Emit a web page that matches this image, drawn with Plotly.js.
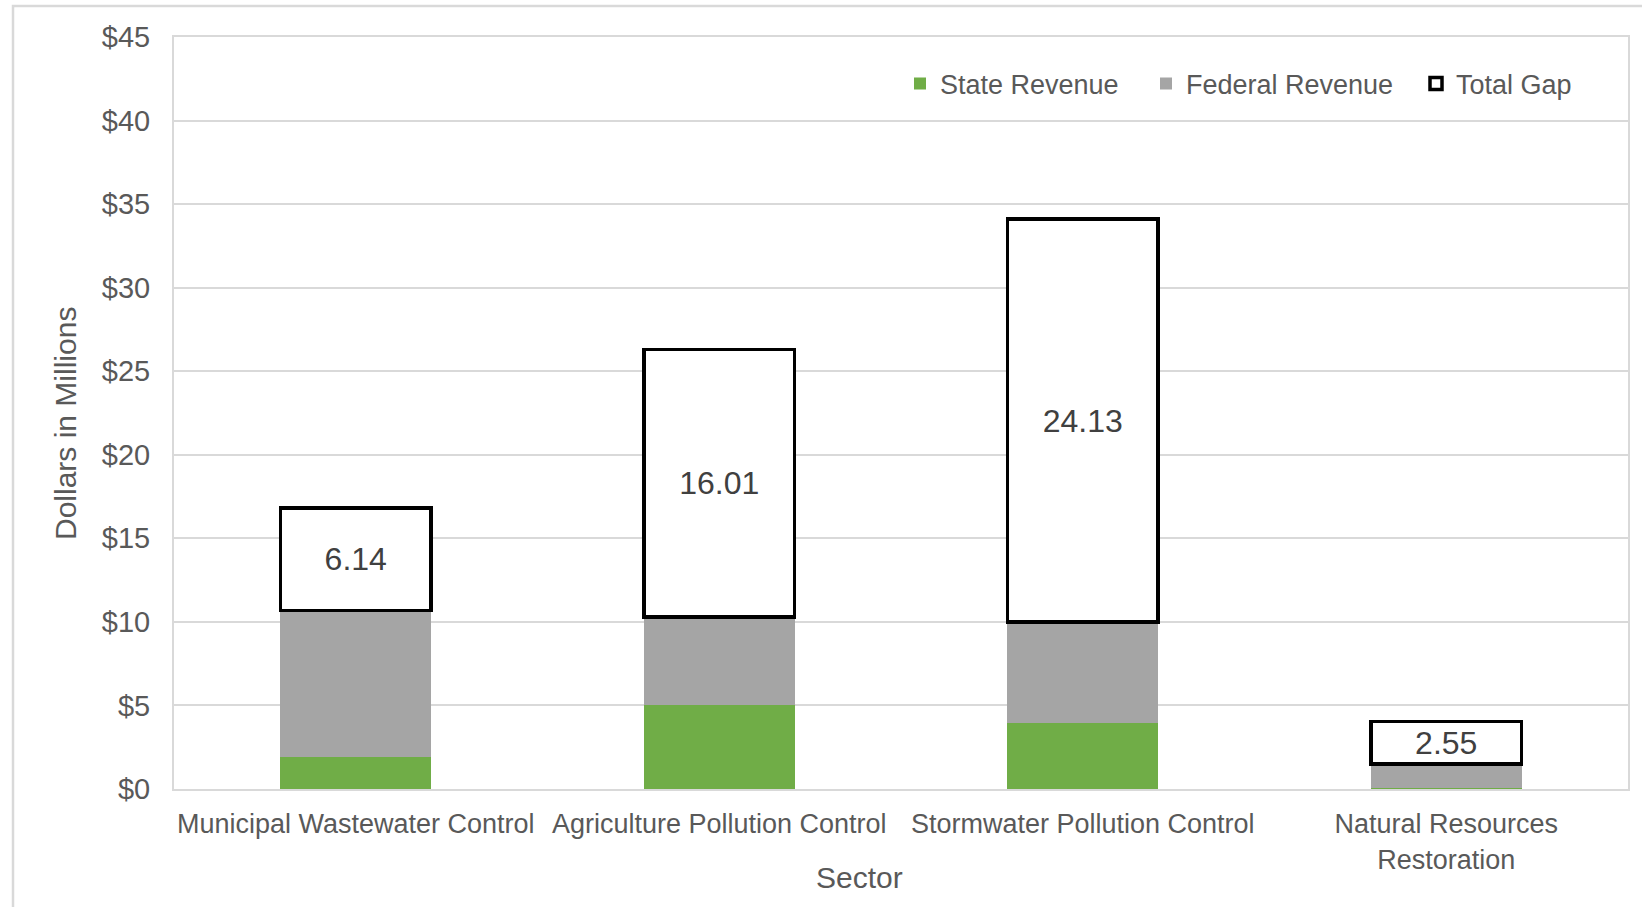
<!DOCTYPE html>
<html>
<head>
<meta charset="utf-8">
<script src="https://cdn.plot.ly/plotly-3.0.1.min.js"></script>
<style>
  html, body { margin: 0; padding: 0; background: #ffffff; }
  #chart { width: 1642px; height: 907px; }
</style>
</head>
<body>
<div id="chart"></div>
<script>
// ---- Data ----
const categories = [
  'Municipal Wastewater Control',
  'Agriculture Pollution Control',
  'Stormwater Pollution Control',
  'Natural Resources<br>Restoration'
];
const stateRevenue   = [1.90, 5.00, 3.94, 0.06];
const federalRevenue = [8.77, 5.28, 6.04, 1.44];
const totalGap       = [6.14, 16.01, 24.13, 2.55];
const seriesNames    = ['State Revenue', 'Federal Revenue', 'Total Gap'];
const yTickValues    = [0, 5, 10, 15, 20, 25, 30, 35, 40, 45];
const yTickLabels    = ['$0', '$5', '$10', '$15', '$20', '$25', '$30', '$35', '$40', '$45'];
const xAxisTitle     = 'Sector';
const yAxisTitle     = 'Dollars in Millions';

// ---- Styling ----
const FONT = 'Liberation Sans, Arial, sans-serif';
const TXT = '#595959';
const GRID = '#D9D9D9';
const BAR_W = 0.415;
const PL = 174, PR = 1628, PT = 37, PB = 789;
const px2x = p => (p - PL) / (PR - PL);
const py2y = p => (PB - p) / (PB - PT);

const traces = [
  {
    type: 'bar', name: seriesNames[0], x: categories, y: stateRevenue,
    width: BAR_W, marker: { color: '#70AD47', line: { width: 0 } },
    legend: 'legend', hoverinfo: 'y'
  },
  {
    type: 'bar', name: seriesNames[1], x: categories, y: federalRevenue,
    width: BAR_W, marker: { color: '#A5A5A5', line: { width: 0 } },
    legend: 'legend2', hoverinfo: 'y'
  },
  {
    type: 'bar', name: seriesNames[2], x: categories, y: totalGap,
    width: BAR_W, marker: { color: '#FFFFFF', line: { color: '#000000', width: 3.5 } },
    text: totalGap.map(v => v.toFixed(2)), textposition: 'inside',
    insidetextanchor: 'middle', constraintext: 'none',
    textfont: { family: FONT, size: 32, color: '#404040' },
    legend: 'legend3', hoverinfo: 'y'
  }
];

function legendAt(leftPx) {
  return {
    orientation: 'h',
    x: px2x(leftPx), xanchor: 'left', y: py2y(84), yanchor: 'middle',
    font: { family: FONT, size: 27, color: TXT },
    bgcolor: 'rgba(0,0,0,0)', borderwidth: 0, itemclick: false
  };
}

const layout = {
  width: 1642, height: 907,
  paper_bgcolor: '#FFFFFF', plot_bgcolor: '#FFFFFF',
  margin: { l: PL, r: 1642 - PR, t: PT, b: 907 - PB, pad: 0 },
  barmode: 'stack',
  font: { family: FONT, color: TXT, size: 27 },
  showlegend: true,
  legend: legendAt(900),
  legend2: legendAt(1146),
  legend3: legendAt(1416),
  xaxis: {
    type: 'category', showgrid: false, zeroline: false,
    showline: true, linecolor: GRID, linewidth: 2, mirror: true,
    ticks: '', tickfont: { family: FONT, size: 27, color: TXT },
    ticklabelstandoff: 10, automargin: false,
    fixedrange: true
  },
  yaxis: {
    range: [0, 45], tickvals: yTickValues, ticktext: yTickLabels,
    showgrid: true, gridcolor: GRID, gridwidth: 2,
    zeroline: false, showline: true, linecolor: GRID, linewidth: 2, mirror: true,
    ticks: '', tickfont: { family: FONT, size: 29, color: TXT },
    ticklabelstandoff: 16, automargin: false,
    fixedrange: true
  },
  annotations: [
    {
      text: xAxisTitle, xref: 'paper', yref: 'paper',
      x: px2x(859), y: py2y(877),
      xanchor: 'center', yanchor: 'middle', showarrow: false,
      font: { family: FONT, size: 30, color: TXT }
    },
    {
      text: yAxisTitle, xref: 'paper', yref: 'paper', textangle: -90,
      x: px2x(65), y: py2y(424),
      xanchor: 'center', yanchor: 'middle', showarrow: false,
      font: { family: FONT, size: 30, color: TXT }
    }
  ],
  shapes: [
    {
      type: 'rect', xref: 'paper', yref: 'paper', layer: 'below',
      x0: px2x(13), x1: px2x(1660),
      y0: py2y(6), y1: py2y(930),
      line: { color: GRID, width: 2.5 }, fillcolor: 'rgba(0,0,0,0)'
    }
  ]
};

Plotly.newPlot('chart', traces, layout, { displayModeBar: false, staticPlot: true });
</script>
</body>
</html>
